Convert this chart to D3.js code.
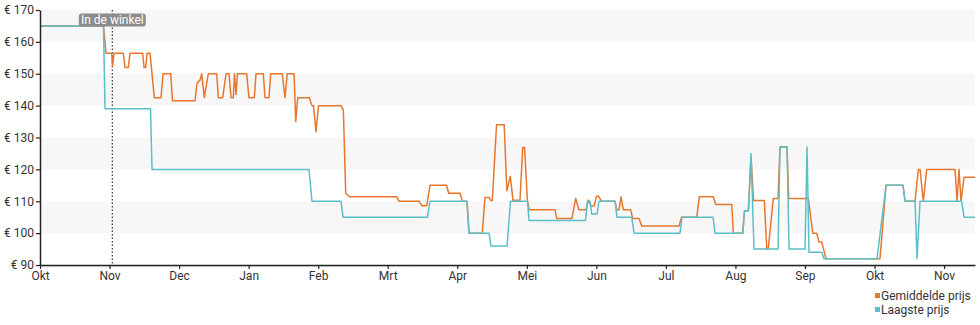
<!DOCTYPE html>
<html>
<head>
<meta charset="utf-8">
<script src="https://cdn.jsdelivr.net/npm/d3@7"></script>
<style>
  body { margin: 0; background: #fff; }
  svg { display: block; font-family: Roboto, "Noto Sans", sans-serif; }
</style>
</head>
<body>
<svg id="chart" width="980" height="325"></svg>
<script>
// Month labels (evenly spaced on the axis)
const monthLabels = ["Okt","Nov","Dec","Jan","Feb","Mrt","Apr","Mei","Jun","Jul","Aug","Sep","Okt","Nov"];
const yTicks = [90,100,110,120,130,140,150,160,170];
const seriesNames = ["Gemiddelde prijs","Laagste prijs"];
const storeMarkerMonth = 1.04;
const storeMarkerLabel = "In de winkel";

// x positions are in months since start of Okt
const avgX = [0,0.913,0.949,1.031,1.043,1.064,1.198,1.222,1.270,1.294,1.477,1.496,1.520,1.539,1.582,1.644,1.740,1.769,1.880,1.905,
  2.229,2.258,2.301,2.325,2.363,2.420,2.541,2.564,2.627,2.675,2.718,2.747,2.780,2.797,2.819,2.840,2.972,3.005,3.082,3.106,
  3.211,3.236,3.293,3.318,3.484,3.523,3.556,3.653,3.677,3.706,3.873,3.911,3.933,3.969,4.005,4.328,4.362,4.396,4.448,5.129,
  5.162,5.454,5.489,5.561,5.608,5.846,5.877,6.040,6.076,6.140,6.169,6.360,6.399,6.457,6.481,6.504,6.565,6.675,6.713,6.763,
  6.802,6.902,6.941,6.967,7.010,7.036,7.406,7.430,7.650,7.703,7.748,7.851,7.885,7.923,7.967,8.005,8.031,8.074,8.269,8.293,
  8.326,8.355,8.388,8.494,8.523,8.614,8.653,9.189,9.225,9.444,9.481,9.682,9.717,9.947,9.970,10.105,10.131,10.186,10.224,10.260,
  10.416,10.450,10.473,10.545,10.613,10.641,10.742,10.766,11.048,11.112,11.169,11.202,11.241,11.264,11.303,12.079,12.165,12.410,12.439,12.583,
  12.630,12.655,12.702,12.751,13.158,13.187,13.215,13.244,13.287,13.445];
const avgY = [165,165,156.4,156.4,152.2,156.4,156.4,152,152,156.4,156.4,152,152,156.4,156.4,142.5,142.5,150,150,141.5,
  141.5,147,148,150,142.5,150,150,142.5,142.5,150,150,142.5,142.5,150,143.5,150,150,142.5,142.5,150,
  150,142.5,142.5,150,150,142.5,150,150,135,142.5,142.5,140,140,131.8,140,140,138.6,112.5,111.4,111.4,
  110,110,108.6,108.6,115,115,112.5,112.5,110,110,100,100,111.2,111.2,110.2,110.2,134,134,113.3,117.8,
  110.3,110.3,126.9,126.9,110,107.3,107.3,104.6,104.6,110.9,107.3,107.3,110.4,108.5,108.5,111.6,111.6,110,110,107.3,
  107.3,111.4,107.3,107.3,104.6,104.6,102.2,102.2,105,105,111.4,111.4,109,109,100,100,107,107,124,110.2,
  110.2,95.2,95.2,110.9,110.9,127,127,110.9,110.9,100,100,97.2,97.2,95.2,92,92,115,115,110,110,
  120,120,110,120,120,110,120,110,117.5,117.5];

const lowX = [0,0.913,0.935,1.589,1.611,3.868,3.911,4.328,4.357,5.572,5.608,6.140,6.169,6.457,6.485,6.716,6.766,7.010,7.032,7.844,
  7.873,7.909,7.934,8.010,8.038,8.269,8.297,8.509,8.542,9.203,9.232,9.678,9.707,10.105,10.131,10.186,10.224,10.267,10.613,10.641,
  10.742,10.771,11.001,11.030,11.058,11.241,11.274,12.036,12.166,12.410,12.439,12.583,12.611,12.655,13.254,13.287,13.445];
const lowY = [165,165,139,139,120,120,110,110,105,105,110,110,100,100,96,96,110,110,104,104,
  110,110,106,106,110,110,105,105,100,100,105,105,100,100,107,107,125,95,95,127,
  127,95,95,127,94,94,92,92,115,115,110,110,92,110,110,105,105];

const W = 980, H = 325;
const svg = d3.select("#chart");
const x = d3.scaleLinear().domain([0, 13.445]).range([40, 975]);
const y = d3.scaleLinear().domain([90, 170]).range([265, 10]);
const orange = "#e8772e", teal = "#5bbfc8";

// bands
svg.append("g").selectAll("rect")
  .data(yTicks.filter(v => v < 170 && (v / 10) % 2 === 0))
  .join("rect")
  .attr("x", x(0)).attr("width", x(13.445) - x(0))
  .attr("y", d => y(d + 10)).attr("height", d => y(d) - y(d + 10))
  .attr("fill", "#f7f7f7");

// minor day ticks on x axis
svg.append("g").selectAll("line")
  .data(d3.range(0, 13.445, 1 / 30.4))
  .join("line")
  .attr("x1", d => x(d)).attr("x2", d => x(d))
  .attr("y1", 265).attr("y2", 267.5)
  .attr("stroke", "#c8c8c8").attr("stroke-width", 0.6);

// store marker
svg.append("line")
  .attr("x1", x(storeMarkerMonth)).attr("x2", x(storeMarkerMonth))
  .attr("y1", y(170)).attr("y2", y(90))
  .attr("stroke", "#333").attr("stroke-width", 1.2).attr("stroke-dasharray", "1.5,2");

// lines
const line = d3.line().x(d => x(d[0])).y(d => y(d[1]));
svg.append("path").datum(avgX.map((d, i) => [d, avgY[i]]))
  .attr("d", line).attr("fill", "none").attr("stroke", orange).attr("stroke-width", 1.5).attr("stroke-linejoin", "round");
svg.append("path").datum(lowX.map((d, i) => [d, lowY[i]]))
  .attr("d", line).attr("fill", "none").attr("stroke", teal).attr("stroke-width", 1.5).attr("stroke-linejoin", "round");

// axes
const yAxis = svg.append("g").attr("transform", `translate(${x(0)},0)`)
  .call(d3.axisLeft(y).tickValues(yTicks).tickFormat(d => "€ " + d).tickSize(4).tickSizeOuter(0).tickPadding(2));
const xAxis = svg.append("g").attr("transform", `translate(0,${y(90)})`)
  .call(d3.axisBottom(x).tickValues(d3.range(monthLabels.length)).tickFormat(i => monthLabels[i]).tickSize(4).tickSizeOuter(0).tickPadding(2));
[yAxis, xAxis].forEach(a => {
  a.select(".domain").attr("stroke", "#222").attr("stroke-width", 1.5);
  a.selectAll(".tick line").attr("stroke", "#222").attr("stroke-width", 1.2);
  a.selectAll("text").attr("fill", "#333").style("font-size", "12px").style("font-family", "Roboto, sans-serif");
});

// marker label
const lbl = svg.append("g").attr("transform", `translate(${x(storeMarkerMonth)},20)`);
lbl.append("rect").attr("x", -33.5).attr("y", -6.5).attr("width", 67).attr("height", 13).attr("rx", 3)
  .attr("fill", "#8c8c8c");
lbl.append("text").attr("text-anchor", "middle").attr("dy", "0.36em")
  .attr("fill", "#fff").style("font-size", "12px").text(storeMarkerLabel);

// legend
const lg = svg.append("g").selectAll("g").data(seriesNames).join("g")
  .attr("transform", (d, i) => `translate(875,${296 + i * 14})`);
lg.append("rect").attr("x", 0).attr("y", -3).attr("width", 5).attr("height", 5)
  .attr("fill", (d, i) => i === 0 ? orange : teal);
lg.append("text").attr("x", 6).attr("dy", "0.35em").attr("fill", "#333")
  .style("font-size", "12px").text(d => d);
</script>
</body>
</html>
